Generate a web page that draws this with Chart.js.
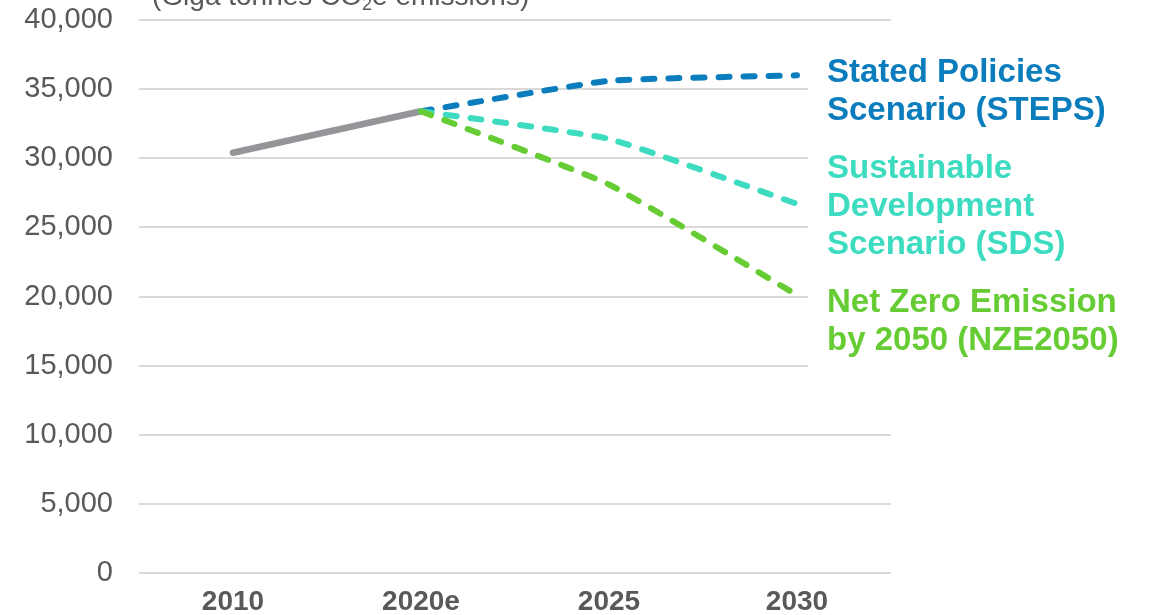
<!DOCTYPE html>
<html>
<head>
<meta charset="utf-8">
<script src="https://cdn.jsdelivr.net/npm/chart.js@4.4.1/dist/chart.umd.min.js"></script>
<style>
  html, body { margin: 0; padding: 0; background: #ffffff; }
  #wrap { width: 1167px; height: 615px; position: relative; }
</style>
</head>
<body>
<div id="wrap"><canvas id="c" width="1167" height="615"></canvas></div>
<script>
// Categories and emissions series (CO2e)
const years = ['2010', '2020e', '2025', '2030'];
const historical = [30400, 33400, null, null];
const steps = [null, 33400, 35600, 36000];
const sds = [null, 33400, 31400, 26700];
const nze = [null, 33400, 28100, 20100];
const yTicks = [0, 5000, 10000, 15000, 20000, 25000, 30000, 35000, 40000];

const colGray = '#939598';
const colSteps = '#0b7dbd';
const colSds = '#3ddcc1';
const colNze = '#66cc33';

const scenarioLabels = [
  { lines: ['Stated Policies', 'Scenario (STEPS)'], color: colSteps, y: 82 },
  { lines: ['Sustainable', 'Development', 'Scenario (SDS)'], color: colSds, y: 178 },
  { lines: ['Net Zero Emission', 'by 2050 (NZE2050)'], color: colNze, y: 312 }
];
const unitLabel = ['(Giga tonnes CO', '2', 'e emissions)'];

const textPlugin = {
  id: 'textPlugin',
  afterDatasetsDraw(chart) {
    const ctx = chart.ctx;
    const area = chart.chartArea;
    ctx.save();
    // unit caption above the plot
    ctx.fillStyle = '#595959';
    ctx.textBaseline = 'alphabetic';
    ctx.textAlign = 'left';
    let x = 152;
    const by = 5;
    ctx.font = '28px "Liberation Sans", Arial, sans-serif';
    ctx.fillText(unitLabel[0], x, by);
    x += ctx.measureText(unitLabel[0]).width;
    ctx.font = '18px "Liberation Sans", Arial, sans-serif';
    ctx.fillText(unitLabel[1], x, by + 5);
    x += ctx.measureText(unitLabel[1]).width;
    ctx.font = '28px "Liberation Sans", Arial, sans-serif';
    ctx.fillText(unitLabel[2], x, by);

    // scenario names at the right end of the lines, on a white backing
    const lh = 38;
    const tx = 827;
    scenarioLabels.forEach(block => {
      const top = block.y - 30;
      const h = lh * (block.lines.length - 1) + 48;
      ctx.fillStyle = '#ffffff';
      ctx.fillRect(808, top, area.right - 808 + 2, h);
      ctx.fillStyle = block.color;
      ctx.font = 'bold 33px "Liberation Sans", Arial, sans-serif';
      block.lines.forEach((s, i) => ctx.fillText(s, tx, block.y + i * lh));
    });
    ctx.restore();
  }
};

const dashed = (data, color) => ({
  data,
  borderColor: color,
  borderWidth: 6,
  borderDash: [11, 14],
  borderCapStyle: 'round',
  tension: 0.12,
  pointRadius: 0,
  spanGaps: false,
  fill: false
});

new Chart(document.getElementById('c'), {
  type: 'line',
  data: {
    labels: years,
    datasets: [
      dashed(nze, colNze),
      dashed(sds, colSds),
      dashed(steps, colSteps),
      {
        data: historical,
        borderColor: colGray,
        borderWidth: 6.5,
        borderCapStyle: 'round',
        tension: 0,
        pointRadius: 0,
        fill: false
      }
    ]
  },
  options: {
    responsive: false,
    maintainAspectRatio: false,
    animation: false,
    events: [],
    layout: { padding: { left: 0, right: 276, top: 20, bottom: 0 } },
    plugins: { legend: { display: false }, tooltip: { enabled: false } },
    scales: {
      x: {
        offset: true,
        grid: { display: false },
        border: { display: false },
        ticks: {
          color: '#595959',
          padding: 4,
          font: { family: '"Liberation Sans", sans-serif', size: 28, weight: 'bold' }
        },
        afterFit(scale) { scale.height = 42; scale.paddingTop = 0; scale.paddingBottom = 0; }
      },
      y: {
        min: 0,
        max: 40000,
        afterBuildTicks(scale) { scale.ticks = yTicks.map(v => ({ value: v })); },
        grid: { color: '#d9d9d9', lineWidth: 2, drawTicks: false },
        border: { display: false },
        ticks: {
          color: '#595959',
          padding: 26,
          font: { family: '"Liberation Sans", Arial, sans-serif', size: 29 },
          callback: v => v.toLocaleString('en-US')
        },
        afterFit(scale) { scale.width = 139; scale.paddingTop = 0; scale.paddingBottom = 0; }
      }
    }
  },
  plugins: [textPlugin]
});
</script>
</body>
</html>
